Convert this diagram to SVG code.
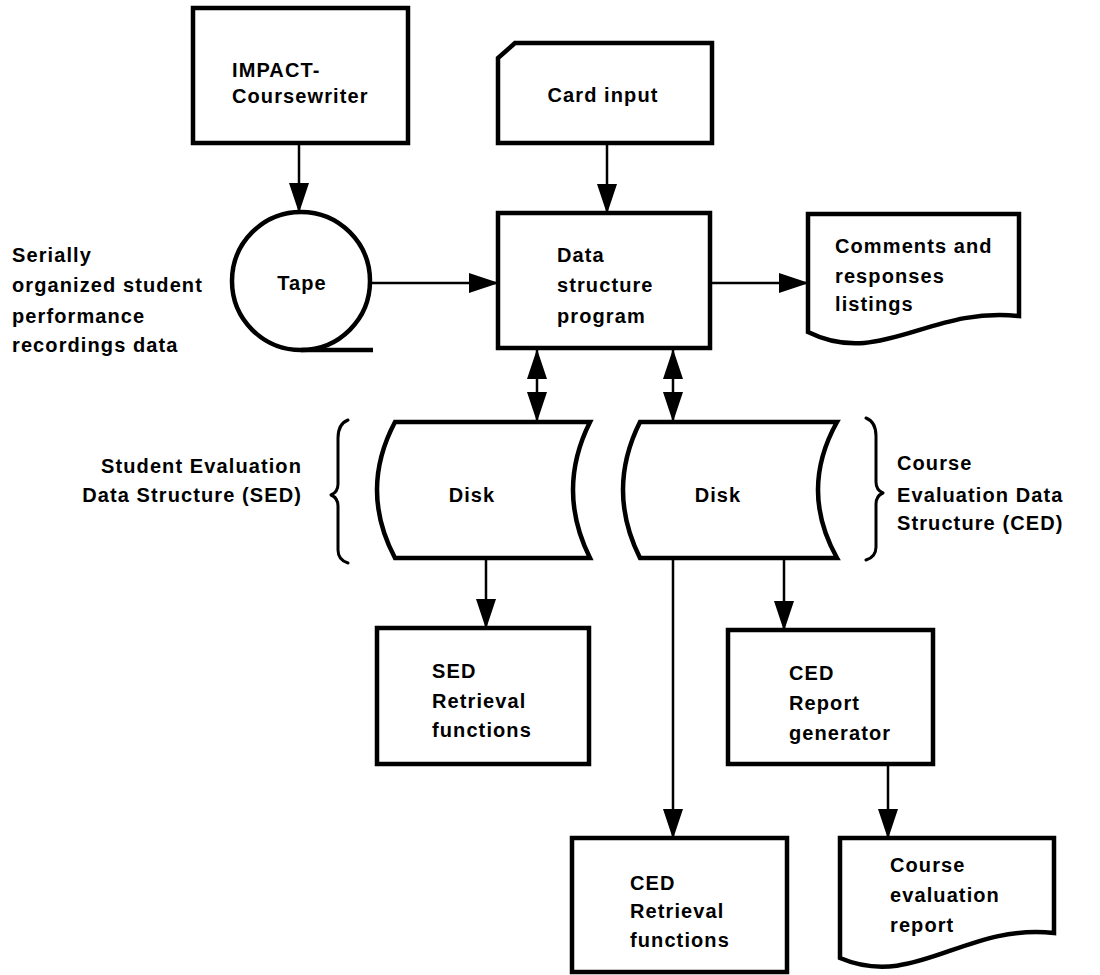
<svg xmlns="http://www.w3.org/2000/svg" width="1100" height="975" viewBox="0 0 1100 975">
  <style>
    .shape { fill: #ffffff; stroke: #000000; stroke-width: 4.5; stroke-linejoin: miter; }
    .brace { fill: none; stroke: #000000; stroke-width: 3; stroke-linecap: round; stroke-linejoin: round; }
    .flow { fill: none; stroke: #000000; stroke-width: 2.5; }
    .lbl { font-family: "Liberation Sans", Arial, sans-serif; font-size: 20px; font-weight: bold; letter-spacing: 1.1px; fill: #000000; }
    .mid { text-anchor: middle; }
    .end { text-anchor: end; }
  </style>
  <defs>
    <marker id="head" viewBox="0 0 30 20" refX="29" refY="10" markerUnits="userSpaceOnUse" markerWidth="30" markerHeight="20" orient="auto-start-reverse">
      <path d="M0,0 L30,10 L0,20 Z" fill="#000000"/>
    </marker>
  </defs>

  <rect width="1100" height="975" fill="#ffffff"/>

  <!-- connectors -->
  <g id="connectors">
    <line class="flow" x1="299" y1="143" x2="299" y2="212" marker-end="url(#head)"/>
    <line class="flow" x1="607" y1="143" x2="607" y2="213" marker-end="url(#head)"/>
    <line class="flow" x1="370" y1="283" x2="498" y2="283" marker-end="url(#head)"/>
    <line class="flow" x1="710" y1="283" x2="808" y2="283" marker-end="url(#head)"/>
    <line class="flow" x1="537" y1="350" x2="537" y2="421" marker-start="url(#head)" marker-end="url(#head)"/>
    <line class="flow" x1="673" y1="350" x2="673" y2="421" marker-start="url(#head)" marker-end="url(#head)"/>
    <line class="flow" x1="486" y1="558" x2="486" y2="628" marker-end="url(#head)"/>
    <line class="flow" x1="673" y1="558" x2="673" y2="838" marker-end="url(#head)"/>
    <line class="flow" x1="784" y1="558" x2="784" y2="630" marker-end="url(#head)"/>
    <line class="flow" x1="888" y1="764" x2="888" y2="838" marker-end="url(#head)"/>
  </g>

  <!-- IMPACT-Coursewriter process -->
  <g id="impact">
    <rect class="shape" x="193" y="8" width="215" height="135"/>
    <text class="lbl" x="232" y="77">IMPACT-</text>
    <text class="lbl" x="232" y="103">Coursewriter</text>
  </g>

  <!-- magnetic tape -->
  <g id="tape">
    <circle class="shape" cx="301" cy="281" r="69"/>
    <line x1="301" y1="350" x2="373" y2="350" stroke="#000000" stroke-width="4.5"/>
    <text class="lbl mid" x="302" y="290">Tape</text>
  </g>

  <!-- side note for the tape -->
  <g id="tape-note">
    <text class="lbl" x="12" y="262">Serially</text>
    <text class="lbl" x="12" y="292">organized student</text>
    <text class="lbl" x="12" y="323">performance</text>
    <text class="lbl" x="12" y="352">recordings data</text>
  </g>

  <!-- punched card input -->
  <g id="card-input">
    <path class="shape" d="M515,43 L712,43 L712,143 L498,143 L498,58 Z"/>
    <text class="lbl mid" x="603" y="102">Card input</text>
  </g>

  <!-- main program -->
  <g id="data-structure-program">
    <rect class="shape" x="498" y="213" width="212" height="135"/>
    <text class="lbl" x="557" y="262">Data</text>
    <text class="lbl" x="557" y="292">structure</text>
    <text class="lbl" x="557" y="323">program</text>
  </g>

  <!-- printed listing -->
  <g id="comments-listings">
    <path class="shape" d="M808,214 L1019,214 L1019,316 C930,306 880,368 808,332 Z"/>
    <text class="lbl" x="835" y="253">Comments and</text>
    <text class="lbl" x="835" y="283">responses</text>
    <text class="lbl" x="835" y="311">listings</text>
  </g>

  <!-- SED disk -->
  <g id="sed-disk">
    <path class="shape" d="M395,422 L590,422 Q556,490 590,558 L395,558 Q359,490 395,422 Z"/>
    <text class="lbl mid" x="472" y="502">Disk</text>
  </g>
  <g id="sed-label">
    <path class="brace" d="M348,420 Q338,424 338,438 L338,484 Q338,492 331,495 Q338,498 338,506 L338,550 Q338,560 348,563"/>
    <text class="lbl end" x="302" y="473">Student Evaluation</text>
    <text class="lbl end" x="302" y="502">Data Structure (SED)</text>
  </g>

  <!-- CED disk -->
  <g id="ced-disk">
    <path class="shape" d="M640,422 L837,422 Q799,490 837,558 L640,558 Q606,490 640,422 Z"/>
    <text class="lbl mid" x="718" y="502">Disk</text>
  </g>
  <g id="ced-label">
    <path class="brace" d="M866,418 Q876,422 876,436 L876,482 Q876,490 883,493 Q876,496 876,504 L876,547 Q876,557 866,560"/>
    <text class="lbl" x="897" y="470">Course</text>
    <text class="lbl" x="897" y="502">Evaluation Data</text>
    <text class="lbl" x="897" y="530">Structure (CED)</text>
  </g>

  <!-- SED retrieval functions -->
  <g id="sed-retrieval">
    <rect class="shape" x="377" y="628" width="212" height="136"/>
    <text class="lbl" x="432" y="678">SED</text>
    <text class="lbl" x="432" y="708">Retrieval</text>
    <text class="lbl" x="432" y="737">functions</text>
  </g>

  <!-- CED report generator -->
  <g id="ced-report-generator">
    <rect class="shape" x="728" y="630" width="205" height="134"/>
    <text class="lbl" x="789" y="680">CED</text>
    <text class="lbl" x="789" y="710">Report</text>
    <text class="lbl" x="789" y="740">generator</text>
  </g>

  <!-- CED retrieval functions -->
  <g id="ced-retrieval">
    <rect class="shape" x="572" y="838" width="215" height="134"/>
    <text class="lbl" x="630" y="890">CED</text>
    <text class="lbl" x="630" y="918">Retrieval</text>
    <text class="lbl" x="630" y="947">functions</text>
  </g>

  <!-- printed course evaluation report -->
  <g id="course-evaluation-report">
    <path class="shape" d="M840,838 L1054,838 L1054,933 C965,923 915,990 840,958 Z"/>
    <text class="lbl" x="890" y="872">Course</text>
    <text class="lbl" x="890" y="902">evaluation</text>
    <text class="lbl" x="890" y="932">report</text>
  </g>
</svg>
